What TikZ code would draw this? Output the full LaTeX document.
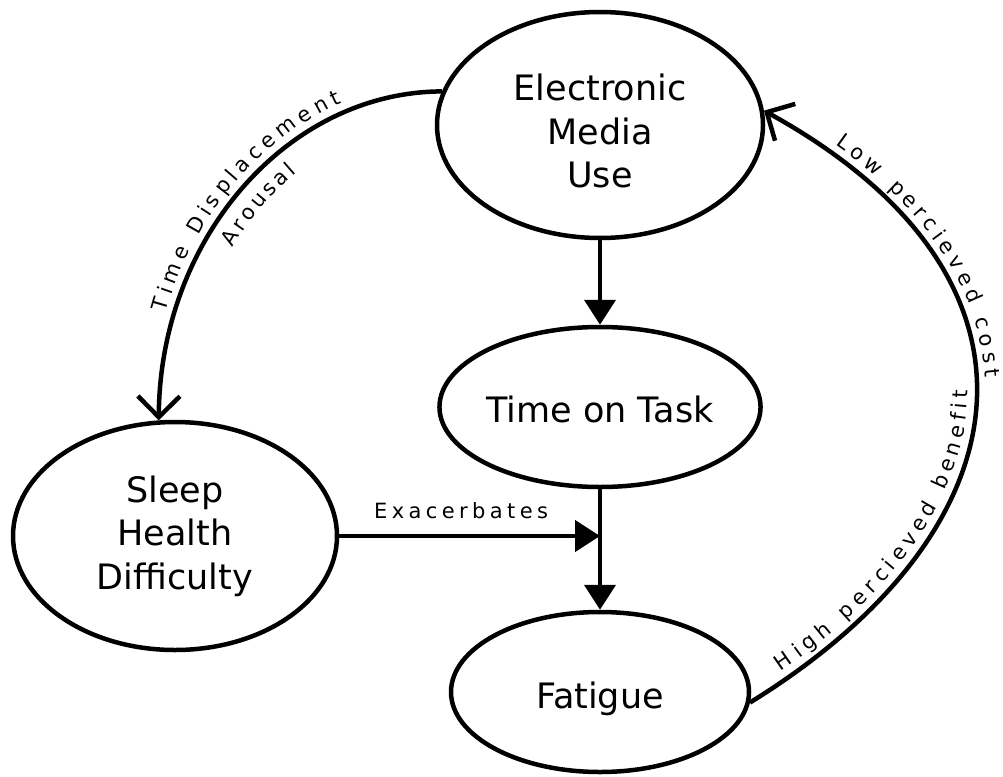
\documentclass[tikz,border=0pt]{standalone}
\usepackage{fontspec}
\setmainfont{DejaVu Sans}
\newfontfamily\lblfont[LetterSpace=21]{DejaVu Sans}
\newfontfamily\pathfont{DejaVu Sans}
\newcommand\lblsize{\lblfont\fontsize{21}{24}\selectfont}
\newcommand\pathsize{\pathfont\fontsize{21}{24}\selectfont}
\usetikzlibrary{shapes.geometric,arrows.meta,decorations.markings}
% text along a path, letter-spaced, placed by arc length
\newdimen\pcnext \newdimen\pcdist \newdimen\pcsp \newdimen\pcraise
\newbox\pcbox
\def\pcstar{*}
\def\pcstring{}
\def\pcpopaux#1#2\relax{\gdef\pchead{#1}\gdef\pcstring{#2}}
\newcommand\pcsetup[4]{\gdef\pcstring{#1}\global\pcnext=#2\relax
  \global\pcraise=#3\relax\global\pcsp=#4\relax}
\newcommand\pcstep{%
  \ifx\pcstring\empty\else
    \pgfmathsetlength\pcdist{\pgfkeysvalueof{/pgf/decoration/mark info/distance from start}}%
    \ifdim\pcdist<\pcnext\else
      \expandafter\pcpopaux\pcstring\relax
      \pgfinterruptpicture
        \ifx\pchead\pcstar
          \global\setbox\pcbox\hbox{\pathsize\ }%
        \else
          \global\setbox\pcbox\hbox{\pathsize\pchead}%
        \fi
      \endpgfinterruptpicture
      \ifx\pchead\pcstar\else
        \node[inner sep=0pt, anchor=base west, transform shape, font=\pathsize] at (0pt,\pcraise) {\pchead};%
      \fi
      \global\advance\pcnext by \wd\pcbox
      \global\advance\pcnext by \pcsp
    \fi
  \fi}
\begin{document}
\begin{tikzpicture}[x=1pt,y=-1pt,
  ell/.style={ellipse, draw, line width=4.5pt, inner sep=0pt, align=center,
              font=\fontsize{35}{43.5}\selectfont},
  lbl/.style={font=\lblsize, inner sep=0pt},
  conn/.style={line width=4.5pt},
  fillarrow/.style={conn, -{Triangle[length=25pt,width=31pt]}},
  openarrow/.style={conn, -{Straight Barb[length=21pt,width=42pt]}},
  pathlbl/.style={decorate, decoration={markings,
      mark=between positions 0 and 1 step 1pt with {\pcstep}}},
]
\useasboundingbox (0,0) rectangle (1003,776);

\node[ell, minimum width=326pt, minimum height=226pt] (emu) at (600,125)
  {\rule{0pt}{38.6pt}Electronic\\Media\\Use};
\node[ell, minimum width=296pt, minimum height=160pt] (tot) at (600,407)
  {\rule{0pt}{30.6pt}Time on Task};
\node[ell, minimum width=324pt, minimum height=228pt] (sleep) at (175,536)
  {Sleep\\Health\\Difficulty};
\node[ell, minimum width=298pt, minimum height=160pt] (fat) at (600,692)
  {\rule{0pt}{40pt}Fatigue};

\coordinate (j) at (tot.south |- sleep.east);

\draw[fillarrow] (emu.south) -- (tot.north);
\draw[fillarrow] (tot.south) -- (fat.north);
\draw[fillarrow] (sleep.east) -- node[lbl, above=15pt, xshift=-8.5pt] (exlbl) {Exacerbates} (j);

% left curve
\draw[openarrow] (emu.168) .. controls (287,92) and (160,239) .. (sleep.98);
\pcsetup{Time*Displacement}{105pt}{9pt}{4.3pt}
\path[pathlbl] (sleep.98) .. controls (160,239) and (287,92) .. (emu.168);
\pcsetup{Arousal}{193pt}{-27pt}{4.6pt}
\path[pathlbl] (sleep.98) .. controls (160,239) and (287,92) .. (emu.168);

% right curve
\draw[openarrow] (fat.-4) .. controls (1030,530) and (1068,278) .. (emu.5);
\pcsetup{Low*percieved*cost}{76pt}{9pt}{4.2pt}
\path[pathlbl] (emu.5) .. controls (1068,278) and (1030,530) .. (fat.-4);
\pcsetup{High*percieved*benefit}{42pt}{9pt}{5.4pt}
\path[pathlbl] (fat.-4) .. controls (1030,530) and (1068,278) .. (emu.5);
\end{tikzpicture}
\end{document}
